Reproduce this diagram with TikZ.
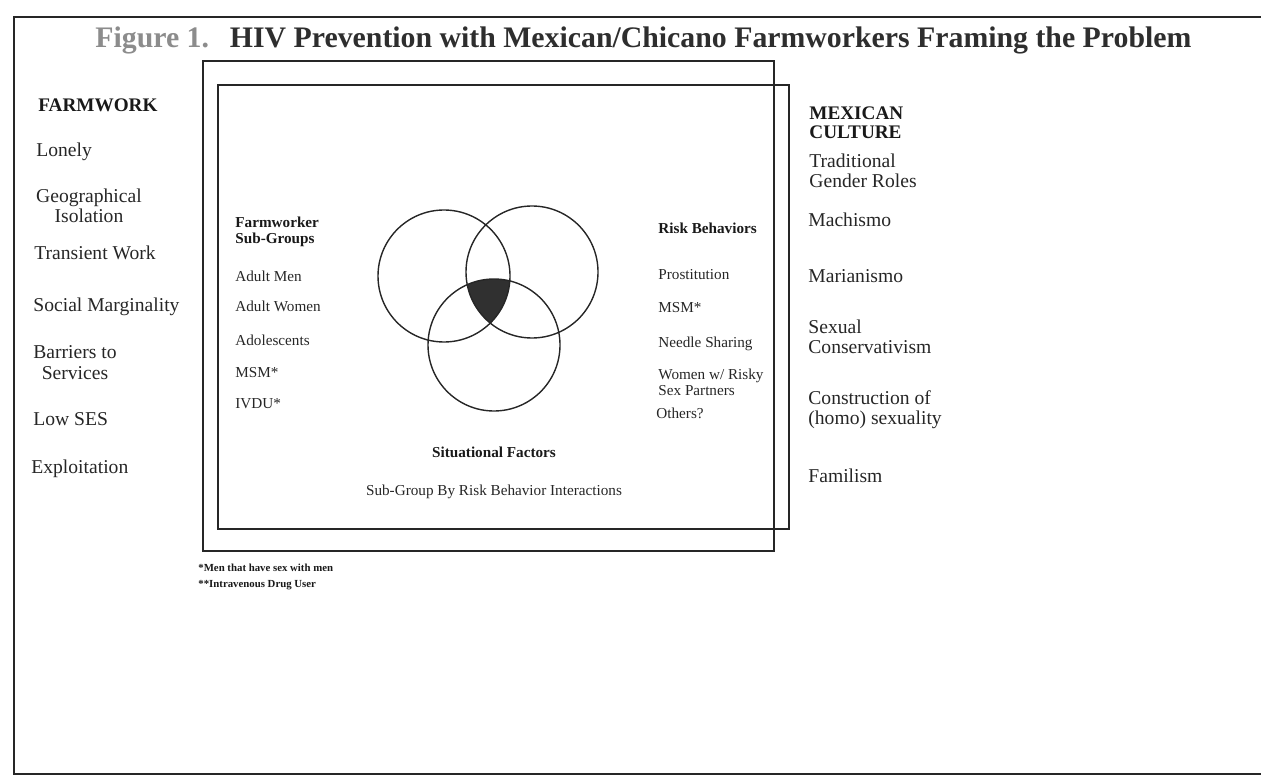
\documentclass[tikz,border=0pt]{standalone}
\usepackage{fontspec}
\setmainfont{Liberation Serif}
\definecolor{figgray}{HTML}{8C8C8C}
\definecolor{inkgray}{HTML}{2E2E2E}
\definecolor{fillgray}{HTML}{303030}
\tikzset{
  frame/.style={black!85, line width=0.9pt},
  ring/.style={black!85, line width=0.7pt},
  bigitem/.style={inner sep=0pt, anchor=base west, text=black!85, font=\fontsize{9.8}{10}\selectfont},
  bighead/.style={inner sep=0pt, anchor=base west, text=black!90, font=\bfseries\fontsize{9.6}{9.6}\selectfont},
  smallitem/.style={inner sep=0pt, anchor=base west, text=black!85, font=\fontsize{7.6}{8}\selectfont},
  smallhead/.style={inner sep=0pt, anchor=base west, text=black!90, font=\bfseries\fontsize{7.6}{8}\selectfont},
  note/.style={inner sep=0pt, anchor=base west, text=black!90, font=\bfseries\fontsize{5.4}{8}\selectfont}
}
\begin{document}
\begin{tikzpicture}[x=0.5pt,y=-0.5pt]
\useasboundingbox (0,0) rectangle (1261,780);

% page frame
\draw[frame, line width=1.1pt] (1261,17) -- (14,17) -- (14,774) -- (1261,774);

% title
\node[inner sep=0pt, anchor=base west, text=inkgray, font=\bfseries\fontsize{14.9}{16}\selectfont] (title) at (95,48)
  {\textcolor{figgray}{Figure 1.}\hspace{0.7em}HIV Prevention with Mexican/Chicano Farmworkers Framing the Problem};

% the two boxes
\draw[frame] (203,61) rectangle (774,551);
\draw[frame] (218,85) rectangle (789,529);

% farmwork column (two-line nodes sit on their last baseline)
\node[bighead] (farmwork) at (38,112) {FARMWORK};
\node[bigitem] (lonely) at (36,157) {Lonely};
\node[bigitem, anchor=base, align=center] (isolation) at (89,223) {Geographical\\Isolation};
\node[bigitem] (transient) at (34,260) {Transient Work};
\node[bigitem] (marginal) at (33,311) {Social Marginality};
\node[bigitem, anchor=base, align=center] (barriers) at (75,379) {Barriers to\\Services};
\node[bigitem] (lowses) at (33,425) {Low SES};
\node[bigitem] (exploit) at (31,473) {Exploitation};

% culture column
\node[bighead, align=left] (culture) at (809,139) {MEXICAN\\CULTURE};
\node[bigitem, align=left] (gender) at (809,188) {Traditional\\Gender Roles};
\node[bigitem] (machismo) at (808,227) {Machismo};
\node[bigitem] (marian) at (808,283) {Marianismo};
\node[bigitem, align=left] (conserv) at (808,353) {Sexual\\Conservativism};
\node[bigitem, align=left] (homo) at (808,424) {Construction of\\(homo) sexuality};
\node[bigitem] (familism) at (808,482) {Familism};

% sub-groups
\node[smallhead, align=left] (subgroups) at (235,244) {Farmworker\\Sub-Groups};
\node[smallitem] (men) at (235,282) {Adult Men};
\node[smallitem] (women) at (235,312) {Adult Women};
\node[smallitem] (teens) at (235,345) {Adolescents};
\node[smallitem] (msmA) at (235,377) {MSM*};
\node[smallitem] (ivdu) at (235,408) {IVDU*};

% risk behaviors
\node[smallhead] (risk) at (658,234) {Risk Behaviors};
\node[smallitem] (prost) at (658,279) {Prostitution};
\node[smallitem] (msmB) at (658,313) {MSM*};
\node[smallitem] (needle) at (658,347) {Needle Sharing};
\node[smallitem, align=left] (partners) at (658,395) {Women w/ Risky\\Sex Partners};
\node[smallitem] (others) at (656,418) {Others?};

% venn
\coordinate (cA) at (444,276);
\coordinate (cB) at (532,272);
\coordinate (cC) at (494,345);
\begin{scope}
  \clip (cA) circle (66);
  \clip (cB) circle (66);
  \fill[fillgray] (cC) circle (66);
\end{scope}
\draw[ring] (cA) circle (66);
\draw[ring] (cB) circle (66);
\draw[ring] (cC) circle (66);

\node[smallhead, anchor=base] (situation) at (494,457) {Situational Factors};
\node[smallitem, anchor=base] (interact) at (494,495) {Sub-Group By Risk Behavior Interactions};

% footnotes
\node[note] (noteA) at (198,571) {*Men that have sex with men};
\node[note] (noteB) at (198,587) {**Intravenous Drug User};

\end{tikzpicture}
\end{document}
